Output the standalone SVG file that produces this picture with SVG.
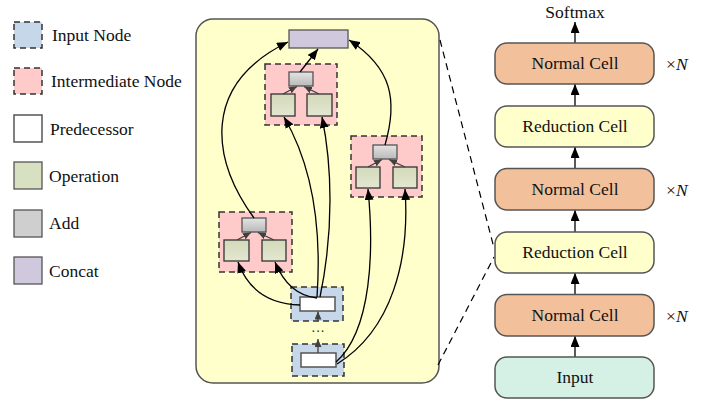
<svg xmlns="http://www.w3.org/2000/svg" width="710" height="403" viewBox="0 0 710 403" font-family="'Liberation Serif', 'DejaVu Serif', serif">
<defs>
<marker id="ah" viewBox="0 0 11 9" refX="11" refY="4.5" markerWidth="11" markerHeight="9" markerUnits="userSpaceOnUse" orient="auto"><path d="M0,0 L11,4.5 L0,9 z" fill="#000"/></marker>
<marker id="ahs" viewBox="0 0 8 7" refX="8" refY="3.5" markerWidth="8" markerHeight="7" markerUnits="userSpaceOnUse" orient="auto"><path d="M0,0 L8,3.5 L0,7 z" fill="#404040"/></marker>
<linearGradient id="gop" x1="0" y1="0" x2="0" y2="1"><stop offset="0" stop-color="#d3d9ba"/><stop offset="1" stop-color="#e3e7d0"/></linearGradient>
<linearGradient id="gadd" x1="0" y1="0" x2="0" y2="1"><stop offset="0" stop-color="#e4e4e4"/><stop offset="1" stop-color="#b9b9b9"/></linearGradient>
</defs>
<style>
text{font-family:'Liberation Serif','DejaVu Serif',serif;font-size:17.5px;fill:#111}
.c{text-anchor:middle}
.dash{stroke:#333;stroke-width:1.5;stroke-dasharray:6,4}
.inp{fill:#c5d7e9}
.mid{fill:#ffcaca}
.pred{fill:#fff;stroke:#555;stroke-width:1.5}
.op{fill:url(#gop);stroke:#333;stroke-width:1.3}
.add{fill:url(#gadd);stroke:#555;stroke-width:1.3}
.lop{fill:#d8e0c2;stroke:#555;stroke-width:1.3}
.ladd{fill:#cfcfcf;stroke:#555;stroke-width:1.3}
.lcat{fill:#d0c9de;stroke:#555;stroke-width:1.3}
.cat{fill:#d0c9de;stroke:#555;stroke-width:1.3}
.edge{fill:none;stroke:#000;stroke-width:1.3;marker-end:url(#ah)}
.ie{fill:none;stroke:#404040;stroke-width:1.3;marker-end:url(#ahs)}
.cell{stroke:#555;stroke-width:1.5}
.norm{fill:#f2c19c}
.red{fill:#ffffcc}
.cin{fill:#d5f1e5}
</style>

<g id="legend">
<g id="leg-input"><rect x="14" y="22" width="28" height="26" class="inp dash"/><text x="52" y="41">Input Node</text></g>
<g id="leg-inter"><rect x="14" y="68" width="28" height="26" class="mid dash"/><text x="51" y="87">Intermediate Node</text></g>
<g id="leg-pred"><rect x="14" y="115" width="28" height="27" class="pred"/><text x="50" y="135">Predecessor</text></g>
<g id="leg-op"><rect x="14" y="162" width="28" height="27" class="lop"/><text x="49" y="182">Operation</text></g>
<g id="leg-add"><rect x="14" y="210" width="28" height="27" class="ladd"/><text x="49" y="229">Add</text></g>
<g id="leg-concat"><rect x="14" y="257" width="28" height="27" class="lcat"/><text x="49" y="277">Concat</text></g>
</g>

<g id="cell-panel"><rect x="196" y="19" width="243" height="364" rx="17" fill="#ffffcc" stroke="#555" stroke-width="1.5"/></g>

<g id="zoom-lines" fill="none" stroke="#000" stroke-width="1.2" stroke-dasharray="7,5">
<line x1="440" y1="40" x2="494" y2="248"/>
<line x1="438" y1="365" x2="494" y2="257"/>
</g>

<g id="concat"><rect x="289" y="30" width="59" height="18" class="cat"/></g>

<g id="inter-top">
<rect x="265" y="64" width="72" height="61" class="mid dash"/>
<rect x="289" y="72" width="24" height="14" class="add"/>
<rect x="271" y="94" width="24" height="22" class="op"/>
<rect x="307" y="94" width="25" height="22" class="op"/>
<path d="M283,94 L297,86.5" class="ie"/>
<path d="M319,94 L304,86.5" class="ie"/>
</g>

<g id="inter-right">
<rect x="351" y="136" width="71" height="61" class="mid dash"/>
<rect x="373" y="145" width="24" height="14" class="add"/>
<rect x="356" y="167" width="24" height="21" class="op"/>
<rect x="393" y="167" width="24" height="21" class="op"/>
<path d="M368,167 L382,159.5" class="ie"/>
<path d="M405,167 L389,159.5" class="ie"/>
</g>

<g id="inter-left">
<rect x="219" y="212" width="73" height="60" class="mid dash"/>
<rect x="242" y="218" width="24" height="14" class="add"/>
<rect x="224" y="240" width="25" height="21" class="op"/>
<rect x="262" y="240" width="24" height="21" class="op"/>
<path d="M237,240 L251,232.5" class="ie"/>
<path d="M274,240 L258,232.5" class="ie"/>
</g>

<g id="input-upper">
<rect x="291" y="287" width="52" height="34" class="inp dash"/>
<rect x="300" y="297" width="35" height="14" class="pred"/>
</g>

<g id="input-lower">
<rect x="292" y="344" width="52" height="32" class="inp dash"/>
<rect x="301" y="353" width="35" height="14" class="pred"/>
</g>

<text x="318" y="336" class="c" style="font-size:14px;fill:#333">···</text>

<g id="connectors">
<path d="M254,218 C212,160 200,85 288,42" class="edge"/>
<path d="M300,72 L318,49" class="edge"/>
<path d="M385,145 C398,100 392,68 349,40" class="edge"/>
<path d="M317,297 C322,225 312,165 284,117" class="edge"/>
<path d="M320,297 C334,230 332,165 322,117" class="edge"/>
<path d="M300,305 C268,304 248,290 238,262" class="edge"/>
<path d="M317,298 C298,296 284,284 275,262" class="edge"/>
<path d="M336,362 C372,330 374,250 368,189" class="edge"/>
<path d="M337,364 C392,330 410,260 405,189" class="edge"/>
<path d="M318,321 L318,311.5" class="ie"/>
<path d="M318,353 L318,339" class="ie"/>
<path d="M575,357 L575,336" class="edge"/>
<path d="M575,294.5 L575,273" class="edge"/>
<path d="M575,232 L575,210" class="edge"/>
<path d="M575,168.5 L575,147" class="edge"/>
<path d="M575,106 L575,84" class="edge"/>
<path d="M575,43 L575,22" class="edge"/>
</g>

<g id="softmax"><text x="575" y="18" class="c">Softmax</text></g>
<g id="normal1"><rect x="495" y="43" width="159" height="41" rx="12" class="cell norm"/><text x="575" y="69" class="c">Normal Cell</text></g>
<g id="reduction1"><rect x="495" y="106" width="159" height="41" rx="12" class="cell red"/><text x="575" y="132" class="c">Reduction Cell</text></g>
<g id="normal2"><rect x="495" y="168.5" width="159" height="41.5" rx="12" class="cell norm"/><text x="575" y="195" class="c">Normal Cell</text></g>
<g id="reduction2"><rect x="495" y="232" width="159" height="41" rx="12" class="cell red"/><text x="575" y="258" class="c">Reduction Cell</text></g>
<g id="normal3"><rect x="495" y="294.5" width="159" height="41.5" rx="12" class="cell norm"/><text x="575" y="321" class="c">Normal Cell</text></g>
<g id="input"><rect x="495" y="357" width="159" height="41" rx="12" class="cell cin"/><text x="575" y="383" class="c">Input</text></g>

<g id="multipliers">
<text x="666" y="70">×<tspan font-style="italic">N</tspan></text>
<text x="666" y="196">×<tspan font-style="italic">N</tspan></text>
<text x="666" y="322">×<tspan font-style="italic">N</tspan></text>
</g>
</svg>
